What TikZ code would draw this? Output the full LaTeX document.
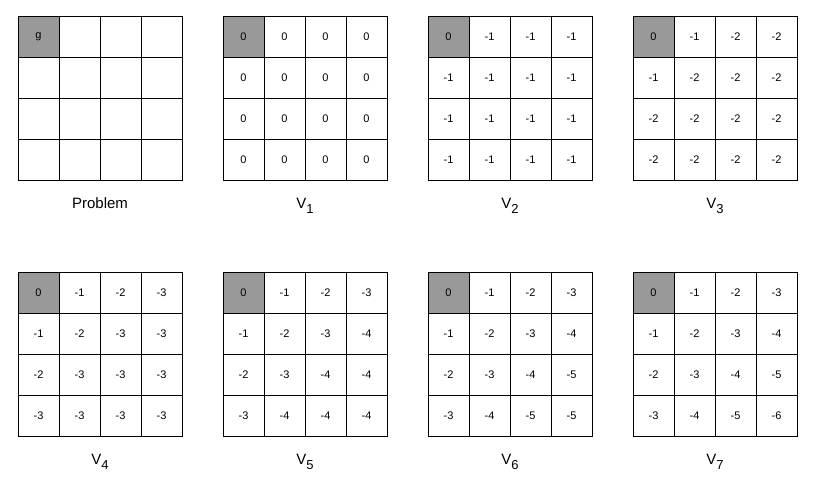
\documentclass[tikz,border=0pt]{standalone}
\usepackage{fontspec}
\setmainfont{Liberation Sans}
\begin{document}
\begin{tikzpicture}[x=1pt,y=1pt,
  cell/.style={draw,line width=0.7pt,minimum size=41pt,inner sep=0pt,outer sep=0pt,font=\fontsize{11}{12}\selectfont},
  goal/.style={cell,fill=black!40},
  lab/.style={font=\fontsize{15}{17}\selectfont}]
\useasboundingbox (0,0) rectangle (820,-477);
\newcommand{\mygrid}[4]{%
  \foreach \v [count=\i from 0] in {#4} {%
    \pgfmathtruncatemacro{\r}{int(\i/4)}%
    \pgfmathtruncatemacro{\c}{mod(\i,4)}%
    \ifnum\i=0
      \node[goal] (#3-\r-\c) at ({#1+41*(\c+0.5)},{-(#2+41*(\r+0.5))}) {\v};
    \else
      \node[cell] (#3-\r-\c) at ({#1+41*(\c+0.5)},{-(#2+41*(\r+0.5))}) {\v};
    \fi
  }}
\newcommand{\vsub}[1]{V\raisebox{-5pt}{\fontsize{13}{15}\selectfont #1}}
\mygrid{18}{16}{p}{g,{},{},{},{},{},{},{},{},{},{},{},{},{},{},{}}
\mygrid{223}{16}{a}{0,0,0,0,0,0,0,0,0,0,0,0,0,0,0,0}
\mygrid{428}{16}{b}{0,-1,-1,-1,-1,-1,-1,-1,-1,-1,-1,-1,-1,-1,-1,-1}
\mygrid{633}{16}{c}{0,-1,-2,-2,-1,-2,-2,-2,-2,-2,-2,-2,-2,-2,-2,-2}
\mygrid{18}{272}{d}{0,-1,-2,-3,-1,-2,-3,-3,-2,-3,-3,-3,-3,-3,-3,-3}
\mygrid{223}{272}{e}{0,-1,-2,-3,-1,-2,-3,-4,-2,-3,-4,-4,-3,-4,-4,-4}
\mygrid{428}{272}{f}{0,-1,-2,-3,-1,-2,-3,-4,-2,-3,-4,-5,-3,-4,-5,-5}
\mygrid{633}{272}{h}{0,-1,-2,-3,-1,-2,-3,-4,-2,-3,-4,-5,-3,-4,-5,-6}
\node[lab] (lp) at (100,-203) {Problem};
\node[lab] (l1) at (305,-206) {\vsub{1}};
\node[lab] (l2) at (510,-206) {\vsub{2}};
\node[lab] (l3) at (715,-206) {\vsub{3}};
\node[lab] (l4) at (100,-462) {\vsub{4}};
\node[lab] (l5) at (305,-462) {\vsub{5}};
\node[lab] (l6) at (510,-462) {\vsub{6}};
\node[lab] (l7) at (715,-462) {\vsub{7}};
\end{tikzpicture}
\end{document}
